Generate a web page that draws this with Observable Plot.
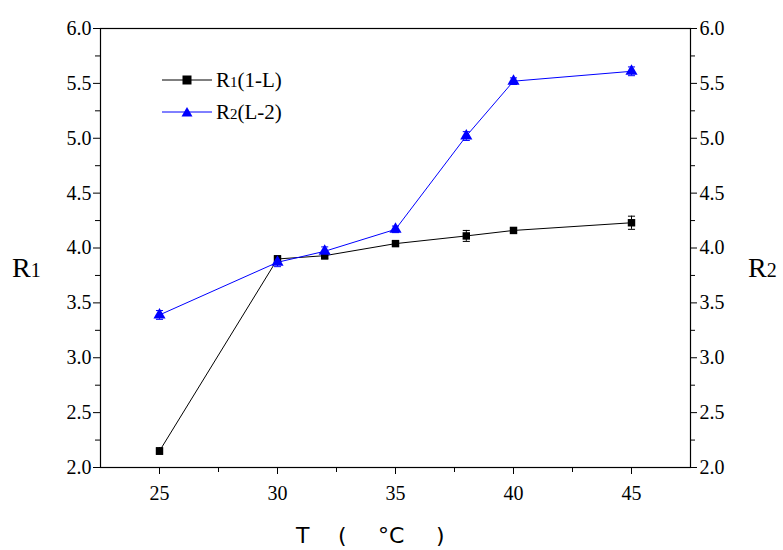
<!DOCTYPE html>
<html><head><meta charset="utf-8">
<script src="https://cdn.jsdelivr.net/npm/d3@7"></script>
<script src="https://cdn.jsdelivr.net/npm/@observablehq/plot@0.6"></script>
<style>
body{margin:0;background:#fff;font-family:"Liberation Serif",serif}
#wrap{position:relative;width:783px;height:550px}
</style></head><body>
<div id="wrap"></div>
<script>
const T = [25, 30, 32, 35, 38, 40, 45];
const R1 = [2.15, 3.90, 3.93, 4.04, 4.11, 4.16, 4.23];
const R1err = [0.03, 0.03, 0.03, 0.02, 0.05, 0.02, 0.06];
const R2 = [3.39, 3.87, 3.97, 4.17, 5.02, 5.52, 5.61];
const R2err = [0.04, 0.04, 0.04, 0.03, 0.04, 0.03, 0.04];
const xTicks = [25, 30, 35, 40, 45];
const xMinor = [27.5, 32.5, 37.5, 42.5];
const yTicks = [2.0, 2.5, 3.0, 3.5, 4.0, 4.5, 5.0, 5.5, 6.0];
const yMinor = [2.25, 2.75, 3.25, 3.75, 4.25, 4.75, 5.25, 5.75];
const X0 = 22.5, X1 = 47.5, Y0 = 2;

const d1 = T.map((t,i)=>({t, v:R1[i], e:R1err[i]}));
const d2 = T.map((t,i)=>({t, v:R2[i], e:R2err[i]}));
const capW = 0.15;
function errMarks(d, color) {
  return [
    Plot.ruleX(d, {x: "t", y1: r=>r.v-r.e, y2: r=>r.v+r.e, stroke: color}),
    Plot.link(d, {x1: r=>r.t-capW, x2: r=>r.t+capW, y1: r=>r.v-r.e, y2: r=>r.v-r.e, stroke: color}),
    Plot.link(d, {x1: r=>r.t-capW, x2: r=>r.t+capW, y1: r=>r.v+r.e, y2: r=>r.v+r.e, stroke: color})
  ];
}
const f1 = d3.format(".1f");
const txt = {fontSize: 20, fontFamily: "Liberation Serif", fill: "black"};
const plot = Plot.plot({
  width: 783, height: 550,
  marginLeft: 100, marginRight: 93, marginTop: 28, marginBottom: 83,
  style: {background: "white", color: "black"},
  x: {domain: [X0, X1], axis: null},
  y: {domain: [Y0, 6], axis: null},
  marks: [
    Plot.frame({stroke: "black", strokeWidth: 1.2}),
    Plot.tickX(xTicks, {x: d=>d, y: Y0, stroke: "black"}),
    Plot.link(xTicks, {x1: d=>d, x2: d=>d, y1: Y0, y2: Y0, stroke: "black"}),
    // major/minor ticks as short links offset outside frame
    Plot.ruleX(xTicks, {x: d=>d, y1: Y0, y2: Y0, insetBottom: -7, stroke: "black"}),
    Plot.ruleX(xMinor, {x: d=>d, y1: Y0, y2: Y0, insetBottom: -5, stroke: "black"}),
    Plot.ruleY(yTicks, {y: d=>d, x1: X0, x2: X0, insetLeft: -7, stroke: "black"}),
    Plot.ruleY(yMinor, {y: d=>d, x1: X0, x2: X0, insetLeft: -5, stroke: "black"}),
    Plot.ruleY(yTicks, {y: d=>d, x1: X1, x2: X1, insetRight: -7, stroke: "black"}),
    Plot.ruleY(yMinor, {y: d=>d, x1: X1, x2: X1, insetRight: -5, stroke: "black"}),
    Plot.text(xTicks, {x: d=>d, y: Y0, dy: 26, text: d=>String(d), ...txt}),
    Plot.text(yTicks, {y: d=>d, x: X0, dx: -9, textAnchor: "end", text: f1, ...txt}),
    Plot.text(yTicks, {y: d=>d, x: X1, dx: 9, textAnchor: "start", text: f1, ...txt}),
    Plot.line(d1, {x: "t", y: "v", stroke: "black", strokeWidth: 1}),
    Plot.line(d2, {x: "t", y: "v", stroke: "#0000ff", strokeWidth: 1}),
    ...errMarks(d1, "black"),
    ...errMarks(d2, "#0000ff"),
    Plot.dot(d1, {x: "t", y: "v", symbol: "square", r: 4.2, fill: "black"}),
    Plot.dot(d2, {x: "t", y: "v", symbol: "triangle", r: 4.5, fill: "#0000ff"})
  ].filter((m,i)=> i !== 1 && i !== 2)
});
const wrap = document.getElementById("wrap");
wrap.appendChild(plot);
const ov = document.createElementNS("http://www.w3.org/2000/svg","svg");
ov.setAttribute("width",783); ov.setAttribute("height",550);
ov.style.position="absolute"; ov.style.left="0"; ov.style.top="0";
ov.innerHTML = `
<g font-family="Liberation Serif" font-size="21">
<line x1="162" x2="212" y1="80" y2="80" stroke="black"/>
<rect x="182.5" y="75.5" width="9" height="9" fill="black"/>
<text x="216" y="87">R<tspan font-size="15">1</tspan>(1-L)</text>
<line x1="162" x2="212" y1="112" y2="112" stroke="#0000ff"/>
<path d="M187,107 L192.5,116.5 L181.5,116.5 Z" fill="#0000ff"/>
<text x="216" y="119">R<tspan font-size="15">2</tspan>(L-2)</text>
<text x="12" y="277" font-size="28">R<tspan font-size="20">1</tspan></text>
<text x="748" y="277" font-size="28">R<tspan font-size="20">2</tspan></text>
</g>
<g font-family="DejaVu Sans" font-size="22">
<text x="296" y="543">T</text>
<text x="338" y="543">(</text>
<text x="378" y="543">°C</text>
<text x="436" y="543">)</text>
</g>`;
wrap.appendChild(ov);
</script></body></html>
